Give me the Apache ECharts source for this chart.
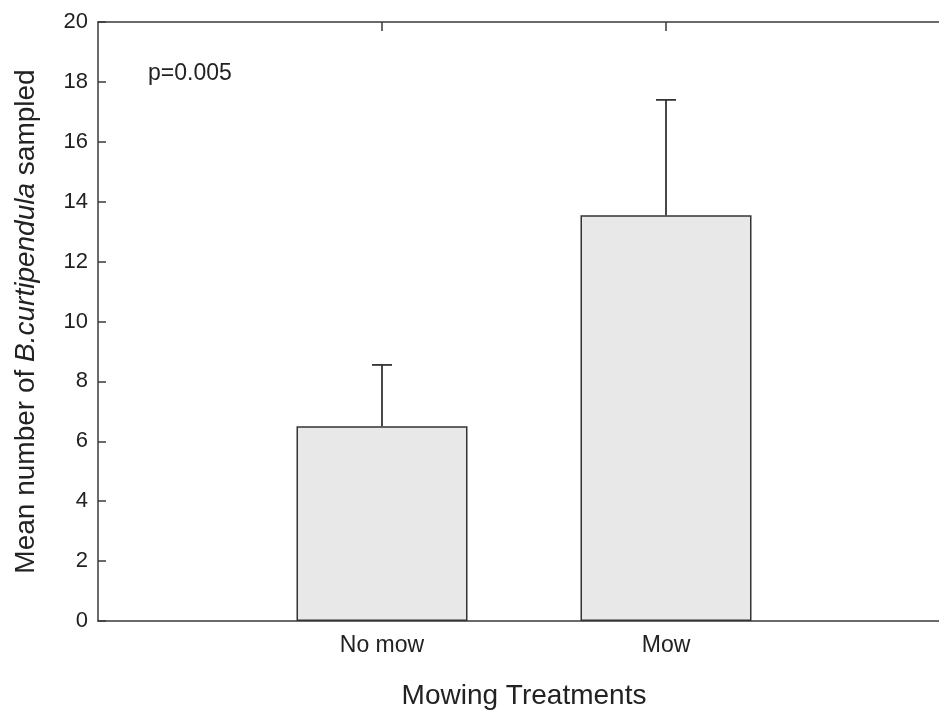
<!DOCTYPE html>
<html>
<head>
<meta charset="utf-8">
<script src="https://cdn.jsdelivr.net/npm/echarts@6/dist/echarts.min.js"></script>
<style>
html,body{margin:0;padding:0;background:#fff;}
#chart{width:939px;height:712px;}
</style>
</head>
<body>
<div id="chart"></div>
<script>
var categories = ['No mow', 'Mow'];
var means = [6.5, 13.55];
var upperErr = [2.05, 3.85];
var yTicks = [0, 2, 4, 6, 8, 10, 12, 14, 16, 18, 20];
var annotation = 'p=0.005';

var axisCats = [''].concat(categories).concat(['']);
var barData = categories.map(function (c, i) { return [c, means[i]]; });
var errData = categories.map(function (c, i) { return [c, means[i], upperErr[i]]; });
var FONT = 'Liberation Sans, Arial, sans-serif';
var LINE = '#3a3a3a';

var chart = echarts.init(document.getElementById('chart'));
chart.setOption({
  animation: false,
  backgroundColor: '#ffffff',
  grid: { left: 98, top: 22, width: 852, height: 599, outerBoundsMode: 'none' },
  xAxis: [{
    type: 'category',
    data: axisCats,
    boundaryGap: false,
    position: 'bottom',
    axisLine: { show: true, lineStyle: { color: LINE, width: 1.5 } },
    axisTick: { show: false },
    axisLabel: { interval: 0, color: '#222', fontFamily: FONT, fontSize: 23, margin: 13 },
    name: 'Mowing Treatments',
    nameLocation: 'middle',
    nameGap: 61,
    nameTextStyle: { color: '#222', fontFamily: FONT, fontSize: 28 }
  }, {
    type: 'category',
    data: axisCats,
    boundaryGap: false,
    position: 'top',
    axisLine: { show: true, lineStyle: { color: LINE, width: 1.5 } },
    axisTick: { show: true, inside: true, length: 9, lineStyle: { color: LINE, width: 1.5 },
      interval: function (idx, val) { return val !== ''; } },
    axisLabel: { show: false }
  }],
  yAxis: {
    type: 'value',
    min: yTicks[0],
    max: yTicks[yTicks.length - 1],
    interval: 2,
    axisLine: { show: true, lineStyle: { color: LINE, width: 1.5 } },
    axisTick: { show: true, inside: true, length: 8, lineStyle: { color: LINE, width: 1.5 } },
    splitLine: { show: false },
    axisLabel: { color: '#222', fontFamily: FONT, fontSize: 22, margin: 10 },
    name: '{n|Mean number of }{i|B.curtipendula}{n| sampled}',
    nameLocation: 'middle',
    nameGap: 58,
    nameTextStyle: {
      rich: {
        n: { color: '#222', fontFamily: FONT, fontSize: 28 },
        i: { color: '#222', fontFamily: FONT, fontSize: 28, fontStyle: 'italic' }
      }
    }
  },
  series: [{
    type: 'bar',
    xAxisIndex: 0,
    data: barData,
    barWidth: 171,
    itemStyle: { color: '#e8e8e8', borderColor: '#333', borderWidth: 1.5 },
    z: 2
  }, {
    type: 'custom',
    xAxisIndex: 0,
    data: errData,
    z: 3,
    renderItem: function (params, api) {
      var x = api.value(0);
      var base = api.coord([x, api.value(1)]);
      var top = api.coord([x, api.value(1) + api.value(2)]);
      var hw = 10;
      var st = { stroke: '#333', lineWidth: 1.8 };
      return {
        type: 'group',
        children: [
          { type: 'line', shape: { x1: base[0], y1: base[1], x2: top[0], y2: top[1] }, style: st },
          { type: 'line', shape: { x1: top[0] - hw, y1: top[1], x2: top[0] + hw, y2: top[1] }, style: st }
        ]
      };
    }
  }],
  graphic: [{
    type: 'text',
    left: 148,
    top: 62,
    style: { text: annotation, fill: '#222', font: '23px ' + FONT }
  }]
});
</script>
</body>
</html>
